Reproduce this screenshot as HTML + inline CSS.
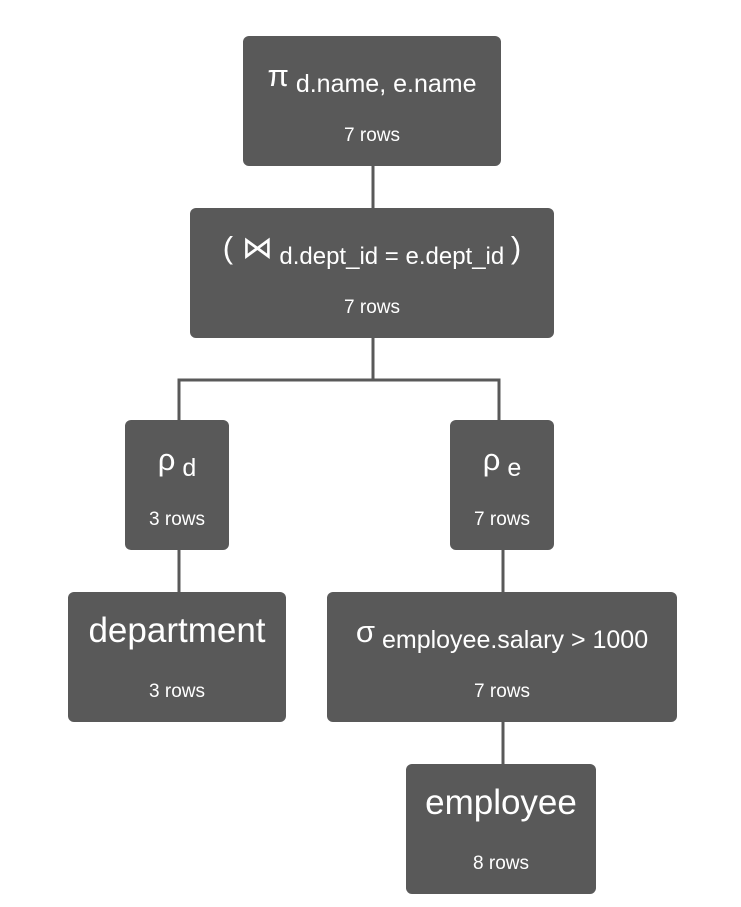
<!DOCTYPE html>
<html><head><meta charset="utf-8"><style>
body{margin:0;background:#fff}
svg{display:block}
text{font-family:"Liberation Sans","DejaVu Sans",sans-serif;fill:#fff}
</style></head><body>
<svg width="741" height="907" viewBox="0 0 741 907" xmlns="http://www.w3.org/2000/svg">
<g stroke="#595959" stroke-width="3" fill="none">
<line x1="373" y1="166" x2="373" y2="208"/>
<polyline points="373,338 373,380 179,380 179,420"/>
<polyline points="373,380 499,380 499,420"/>
<line x1="179" y1="550" x2="179" y2="592"/>
<line x1="503" y1="550" x2="503" y2="592"/>
<line x1="503" y1="722" x2="503" y2="764"/>
</g>
<g fill="#595959">
<rect x="243" y="36" width="258" height="130" rx="6"/>
<rect x="190" y="208" width="364" height="130" rx="6"/>
<rect x="125" y="420" width="104" height="130" rx="6"/>
<rect x="450" y="420" width="104" height="130" rx="6"/>
<rect x="68" y="592" width="218" height="130" rx="6"/>
<rect x="327" y="592" width="350" height="130" rx="6"/>
<rect x="406" y="764" width="190" height="130" rx="6"/>
</g>
<g text-anchor="middle">
<text x="372" y="86" font-size="25"><tspan font-size="31">π</tspan><tspan dy="6"> d.name, e.name</tspan></text>
<text x="372" y="141" font-size="19">7 rows</text>
<text x="372" y="258" font-size="24"><tspan font-size="31">( ⋈</tspan><tspan dy="6"> d.dept_id = e.dept_id </tspan><tspan dy="-6" font-size="31">)</tspan></text>
<text x="372" y="313" font-size="19">7 rows</text>
<text x="177" y="470" font-size="25"><tspan font-size="31">ρ</tspan><tspan dy="6"> d</tspan></text>
<text x="177" y="525" font-size="19">3 rows</text>
<text x="502" y="470" font-size="25"><tspan font-size="31">ρ</tspan><tspan dy="6"> e</tspan></text>
<text x="502" y="525" font-size="19">7 rows</text>
<text x="177" y="642" font-size="35">department</text>
<text x="177" y="697" font-size="19">3 rows</text>
<text x="502" y="642" font-size="25"><tspan font-size="31">σ</tspan><tspan dy="6"> employee.salary &gt; 1000</tspan></text>
<text x="502" y="697" font-size="19">7 rows</text>
<text x="501" y="814" font-size="35">employee</text>
<text x="501" y="869" font-size="19">8 rows</text>
</g>
</svg>
</body></html>
